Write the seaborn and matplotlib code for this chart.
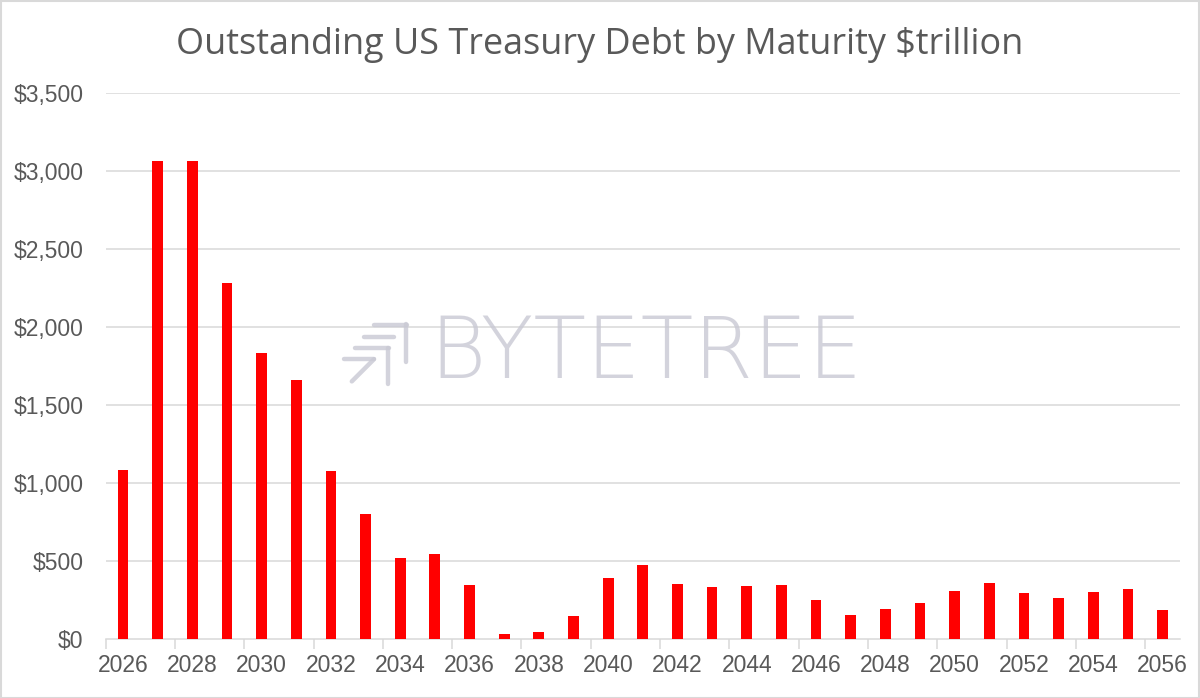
import matplotlib
matplotlib.use("Agg")
import matplotlib.pyplot as plt
from matplotlib.lines import Line2D
from matplotlib.patches import Rectangle
from matplotlib.ticker import FixedLocator, FuncFormatter
import seaborn as sns
import pandas as pd

years = [str(y) for y in range(2026, 2057)]
debt = [1082, 3062, 3062, 2284, 1835, 1663, 1077, 801, 518, 548, 349, 35, 45, 147,
        389, 477, 351, 334, 340, 345, 247, 153, 194, 230, 309, 362, 294, 264, 302, 319, 187]
title = "Outstanding US Treasury Debt by Maturity $trillion"
yticks = [0, 500, 1000, 1500, 2000, 2500, 3000, 3500]

sns.set_theme(style="white")
plt.rcParams['font.family'] = ['Liberation Sans', 'DejaVu Sans']

df = pd.DataFrame({"year": years, "debt": debt})

W, H = 1200, 698
fig = plt.figure(figsize=(W / 100, H / 100), dpi=100)
ax = fig.add_axes([105.6 / W, 1 - 639 / H, (1180 - 105.6) / W, (639 - 93) / H])

grey_txt = "#595959"
grid_c = "#d9d9d9"

for t in yticks[1:]:
    ax.axhline(t, color=grid_c, lw=1.1, zorder=0)

sns.barplot(data=df, x="year", y="debt", color="#ff0000", width=0.31,
            saturation=1, ax=ax, zorder=3, linewidth=0, edgecolor="none")

ax.set_xlim(-0.5, len(years) - 0.5)
ax.set_ylim(0, 3500)
ax.set_yticks(yticks)
ax.yaxis.set_major_formatter(FuncFormatter(lambda v, p: f"${int(v):,}"))
idx = list(range(0, len(years), 2))
ax.set_xticks(idx)
ax.set_xticklabels([years[i] for i in idx])
ax.xaxis.set_minor_locator(FixedLocator([i - 0.5 for i in idx]))
ax.tick_params(axis="x", which="major", length=0, pad=11, labelsize=16.5, colors=grey_txt)
ax.tick_params(axis="x", which="minor", length=7, width=1.1, color=grid_c, bottom=True)
ax.tick_params(axis="y", length=0, pad=16, labelsize=16.5, colors=grey_txt)
for s in ["top", "right", "left"]:
    ax.spines[s].set_visible(False)
ax.spines["bottom"].set_color(grid_c)
ax.spines["bottom"].set_linewidth(1.1)
ax.set_xlabel("")
ax.set_ylabel("")

fig.text(0.5, 1 - 45 / H, title, ha="center", va="center", fontsize=25.9,
         color=grey_txt, family=['Open Sans', 'DejaVu Sans'])

# watermark
wm_c = "#c9c9d4"
fig.text(429 / W, 1 - 354 / H, "BYTETREE", ha="left", va="center", fontsize=62,
         color=wm_c, alpha=0.8, family=['DejaVu Sans'], fontweight="light", zorder=10)
segs = [((374.0, 325.2), (407.3, 325.2)), ((406.2, 324.0), (406.2, 362.2)),
        ((363.6, 337.0), (394.3, 337.0)), ((354.8, 348.1), (388.8, 348.1)),
        ((387.7, 348.0), (387.7, 384.4)), ((343.7, 358.5), (374.0, 358.5)),
        ((374.0, 359.2), (351.8, 381.4))]
for (x0, y0), (x1, y1) in segs:
    fig.add_artist(Line2D([x0 / W, x1 / W], [1 - y0 / H, 1 - y1 / H], color=wm_c,
                          alpha=0.8, lw=3.2, solid_capstyle="round",
                          transform=fig.transFigure, zorder=10))

fig.add_artist(Rectangle((0.5 / W, 0.5 / H), 1 - 1.5 / W, 1 - 1.5 / H, fill=False,
                         edgecolor=grid_c, lw=1.5, transform=fig.transFigure))

fig.savefig("out.png", dpi=100)
